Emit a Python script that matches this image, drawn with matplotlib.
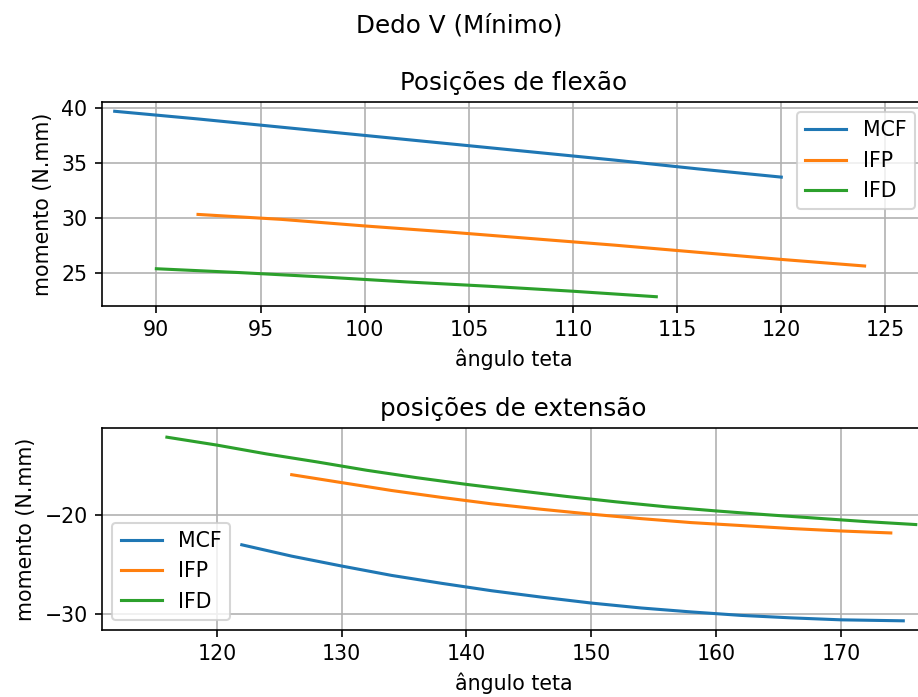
import matplotlib
matplotlib.use('Agg')
import matplotlib.pyplot as plt

# flexion positions
flex_mcf_x = [88, 92, 96, 100, 104, 108, 112, 116, 120]
flex_mcf_y = [39.7, 39.0, 38.25, 37.5, 36.75, 36.0, 35.25, 34.45, 33.7]
flex_ifp_x = [92, 96, 100, 104, 108, 112, 116, 120, 124]
flex_ifp_y = [30.3, 29.85, 29.25, 28.7, 28.1, 27.5, 26.85, 26.2, 25.6]
flex_ifd_x = [90, 94, 98, 102, 106, 110, 114]
flex_ifd_y = [25.35, 25.0, 24.6, 24.15, 23.75, 23.3, 22.8]

# extension positions
ext_mcf_x = [122, 126, 130, 134, 138, 142, 146, 150, 154, 158, 162, 166, 170, 175]
ext_mcf_y = [-23.0, -24.15, -25.15, -26.1, -26.9, -27.65, -28.3, -28.9,
             -29.4, -29.8, -30.15, -30.4, -30.6, -30.7]
ext_ifp_x = [126, 130, 134, 138, 142, 146, 150, 154, 158, 162, 166, 170, 174]
ext_ifp_y = [-15.9, -16.7, -17.5, -18.2, -18.85, -19.4, -19.9, -20.35,
             -20.75, -21.05, -21.35, -21.6, -21.8]
ext_ifd_x = [116, 120, 124, 128, 132, 136, 140, 144, 148, 152, 156, 160,
             164, 168, 172, 176]
ext_ifd_y = [-12.1, -12.9, -13.8, -14.6, -15.45, -16.2, -16.88, -17.5,
             -18.1, -18.65, -19.15, -19.57, -19.95, -20.3, -20.65, -20.95]

labels = ['MCF', 'IFP', 'IFD']

W, H, DPI = 918, 697, 148
fig = plt.figure(figsize=(W / DPI, H / DPI), dpi=DPI)
fig.suptitle('Dedo V (Mínimo)')


def px_axes(left, top, right, bottom):
    return fig.add_axes([left / W, 1 - bottom / H, (right - left) / W, (bottom - top) / H])


ax1 = px_axes(102, 102, 925, 306)
ax1.plot(flex_mcf_x, flex_mcf_y, label=labels[0])
ax1.plot(flex_ifp_x, flex_ifp_y, label=labels[1])
ax1.plot(flex_ifd_x, flex_ifd_y, label=labels[2])
ax1.set_xlim(87.39, 126.9)
ax1.set_title('Posições de flexão')
ax1.set_xlabel('ângulo teta')
ax1.set_ylabel('momento (N.mm)')
ax1.grid(True)
ax1.legend(loc='upper right')

ax2 = px_axes(102, 428, 925, 630)
ax2.plot(ext_mcf_x, ext_mcf_y, label=labels[0])
ax2.plot(ext_ifp_x, ext_ifp_y, label=labels[1])
ax2.plot(ext_ifd_x, ext_ifd_y, label=labels[2])
ax2.set_xlim(110.8, 176.74)
ax2.set_title('posições de extensão')
ax2.set_xlabel('ângulo teta')
ax2.set_ylabel('momento (N.mm)')
ax2.grid(True)
ax2.legend(loc='lower left')

fig.savefig('out.png', dpi=DPI)
